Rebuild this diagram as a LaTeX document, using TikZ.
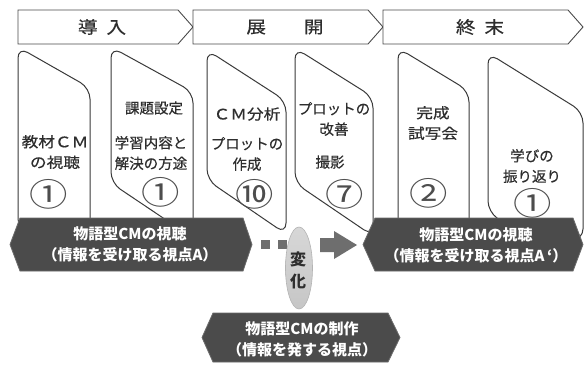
\documentclass[tikz,border=0pt]{standalone}
\usepackage{fontspec}
\usetikzlibrary{shapes.geometric}
\newfontfamily\jp{Noto Sans CJK JP}
\newfontfamily\jpt[FakeBold=0.5]{Noto Sans CJK JP}
\newfontfamily\jpw[FakeStretch=1.15,FakeBold=0.5]{Noto Sans CJK JP}
\newfontfamily\jpc[FakeStretch=1.2]{Noto Sans CJK JP}
\newfontfamily\jph[FakeStretch=1.15,FakeBold=0.4]{Noto Sans CJK JP}
\definecolor{cardline}{HTML}{3A3A3A}
\definecolor{txtdark}{HTML}{2E2E2E}
\definecolor{hdrline}{HTML}{4A4A4A}
\definecolor{bannerfill}{HTML}{4B4B4B}
\definecolor{bannerline}{HTML}{6A6A6A}
\definecolor{dotgray}{HTML}{6E6E6E}
\definecolor{ovalfill}{HTML}{C6C6C6}
\definecolor{ovalline}{HTML}{B4B4B4}
\begin{document}
\begin{tikzpicture}[x=1pt,y=-1pt,
  hdr/.style={draw=hdrline,fill=white,line width=0.9pt},
  hdrtxt/.style={font=\jph\fontsize{17}{17}\selectfont,text=txtdark,inner sep=0pt},
  card/.style={draw=cardline,fill=white,line width=1pt,rounded corners=11pt},
  ctxt/.style={font=\jpt\fontsize{14.5}{20.5}\selectfont,text=txtdark,inner sep=0pt,align=center},
  cwide/.style={font=\jpw\fontsize{14.5}{20.5}\selectfont,text=txtdark,inner sep=0pt,align=center},
  cnum/.style={font=\jpc\fontsize{32}{32}\selectfont,text=txtdark!85,inner sep=0pt},
  banner/.style={fill=bannerfill,draw=bannerline,line width=0.8pt},
  btxt/.style={font=\jp\bfseries\fontsize{15}{21}\selectfont,text=white,align=center,inner sep=0pt},
  dotsq/.style={fill=dotgray},
  oval/.style={ellipse,top color=ovalfill!70,bottom color=ovalfill,draw=ovalline,line width=0.6pt,minimum width=27pt,minimum height=82pt,inner sep=0pt},
  ovaltxt/.style={font=\jp\bfseries\fontsize{16}{22}\selectfont,text=txtdark,align=center,inner sep=0pt}
]
\useasboundingbox (0,0) rectangle (584,365);
\fill[white] (0,0) rectangle (584,365);

% header arrows
\draw[hdr] (18,10) -- (178,10) -- (193,27) -- (178,44) -- (18,44) -- cycle;
\draw[hdr] (193,10) -- (368,10) -- (383,27) -- (368,44) -- (193,44) -- cycle;
\draw[hdr] (383,10) -- (568,10) -- (583,27) -- (568,44) -- (383,44) -- cycle;
\node[hdrtxt] (h1) at (102,27) {導\hspace{9pt}入};
\node[hdrtxt] (h2) at (285,27) {展\hspace{38pt}開};
\node[hdrtxt] (h3) at (480,27) {終\hspace{9pt}末};

% cards
\draw[card] (18,230) -- (18,47) -- (90,88) -- (90,230) -- cycle;
\draw[card] (111,183) -- (111,47) -- (193,92) -- (193,238) -- cycle;
\draw[card] (207,180) -- (207,50) -- (286,101) -- (286,234) -- cycle;
\draw[card] (295,183) -- (295,48) -- (373,97) -- (373,236) -- cycle;
\draw[card] (398,230) -- (398,48) -- (469,91) -- (469,230) -- cycle;
\draw[card] (488,212) -- (488,53) -- (583,112) -- (583,240) -- (530,240) -- cycle;

% card texts
\node[cwide] (c1a) at (55,152) {教材ＣＭ\\の視聴};
\node[cnum] (c1n) at (49,194) {①};
\node[ctxt] (c2a) at (154,108) {課題設定};
\node[ctxt] (c2b) at (151,153) {学習内容と\\解決の方途};
\node[cnum] (c2n) at (161,192) {①};
\node[cwide] (c3a) at (247,114) {ＣＭ分析};
\node[ctxt] (c3b) at (247,154) {プロットの\\作成};
\node[cnum] (c3n) at (255,194) {⑩};
\node[ctxt] (c4a) at (334,119) {プロットの\\改善};
\node[ctxt] (c4b) at (330,162) {撮影};
\node[cnum] (c4n) at (345,194) {⑦};
\node[cwide] (c5a) at (433,123) {完成\\試写会};
\node[cnum] (c5n) at (429,193) {②};
\node[ctxt] (c6a) at (532,166) {学びの\\振り返り};
\node[cnum] (c6n) at (533,203) {①};

% banners
\draw[banner] (20,218) -- (243,218) -- (252,244.5) -- (243,271) -- (20,271) -- (10,244.5) -- cycle;
\node[btxt] (b1) at (130,244) {物語型CMの視聴\\（情報を受け取る視点A）};
\draw[banner] (375,218) -- (573,218) -- (583,244.5) -- (573,271) -- (375,271) -- (363,244.5) -- cycle;
\node[btxt] (b2) at (476,245) {物語型CMの視聴\\（情報を受け取る視点A\,‘）};
\draw[banner] (213,313) -- (388,313) -- (400,337.5) -- (388,362) -- (213,362) -- (202,337.5) -- cycle;
\node[btxt] (b3) at (302,339) {物語型CMの制作\\（情報を発する視点）};

% dotted arrow
\fill[dotsq] (261,240) rectangle (270,249);
\fill[dotsq] (278,240) rectangle (287,249);
\fill[dotsq] (320,238) -- (334,238) -- (334,231) -- (357,245) -- (334,259) -- (334,252) -- (320,252) -- cycle;

% oval
\node[oval] (ov) at (299,268) {};
\node[ovaltxt] (ovt) at (298,270) {変\\化};
\end{tikzpicture}
\end{document}
